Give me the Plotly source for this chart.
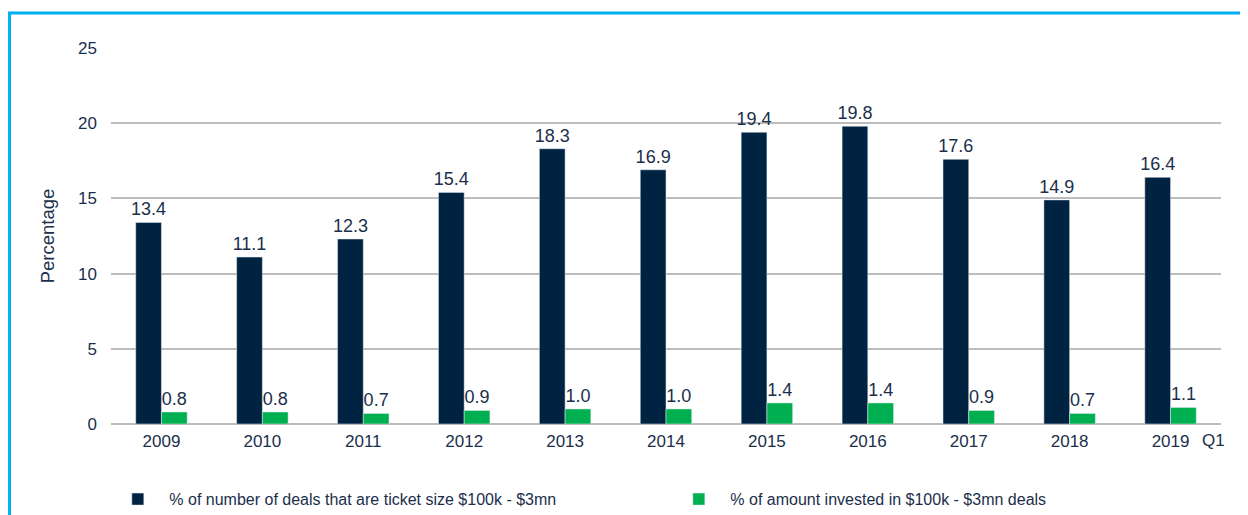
import plotly.graph_objects as go

years = ["2009", "2010", "2011", "2012", "2013", "2014", "2015", "2016", "2017", "2018", "2019"]
deals_share = [13.4, 11.1, 12.3, 15.4, 18.3, 16.9, 19.4, 19.8, 17.6, 14.9, 16.4]
amount_share = [0.8, 0.8, 0.7, 0.9, 1.0, 1.0, 1.4, 1.4, 0.9, 0.7, 1.1]
y_ticks = [0, 5, 10, 15, 20, 25]

navy = "#002342"
green = "#00b050"
txt = "#1b2f4b"
frame = "#00b0f0"
font = "Liberation Sans, Arial, sans-serif"

fig = go.Figure()
fig.add_trace(go.Bar(
    x=years, y=deals_share,
    name="% of number of deals that are ticket size $100k - $3mn",
    marker_color=navy,
    texttemplate="%{y:.1f}", textposition="outside", constraintext="none",
    textfont=dict(size=18, color=txt, family=font),
    cliponaxis=False,
))
fig.add_trace(go.Bar(
    x=years, y=amount_share,
    name="% of amount invested in $100k - $3mn deals",
    marker_color=green,
    texttemplate="%{y:.1f}", textposition="outside", constraintext="none",
    textfont=dict(size=18, color=txt, family=font),
    cliponaxis=False,
))

fig.update_layout(
    width=1248, height=515,
    margin=dict(l=103, r=35, t=40, b=99, autoexpand=False),
    paper_bgcolor="white", plot_bgcolor="white",
    barmode="group", bargap=0.49, bargroupgap=0,
    font=dict(family=font, color=txt, size=16),
    showlegend=True,
    legend=dict(
        orientation="h", x=-0.0042, xanchor="left", y=-0.2, yanchor="middle",
        font=dict(size=16, color=txt, family=font),
        itemwidth=53, entrywidth=493, entrywidthmode="pixels",
        traceorder="normal",
    ),
    xaxis=dict(
        showgrid=False, showline=False, ticks="", ticklabelstandoff=5,
        tickfont=dict(size=17, color=txt, family=font),
    ),
    yaxis=dict(
        range=[0, 25], tickvals=y_ticks,
        showgrid=True, gridcolor="#bcbcbc", gridwidth=1.5,
        zeroline=True, zerolinecolor="#bcbcbc", zerolinewidth=1.5,
        showline=False, ticks="", ticklabelstandoff=13,
        tickfont=dict(size=17, color=txt, family=font),
        title=dict(text="Percentage", font=dict(size=18.5, color=txt, family=font), standoff=18),
    ),
    shapes=[
        dict(type="line", xref="paper", yref="paper", x0=-0.0914, x1=-0.0914, y0=1.093, y1=-0.26,
             line=dict(color=frame, width=3)),
        dict(type="line", xref="paper", yref="paper", x0=-0.093, x1=1.04, y0=1.093, y1=1.093,
             line=dict(color=frame, width=3)),
    ],
    annotations=[
        dict(text="Q1", xref="paper", yref="paper", x=1.0054, y=0, yanchor="top", yshift=-5,
             showarrow=False, font=dict(size=17, color=txt, family=font)),
    ],
)

fig.write_html("out.html")
